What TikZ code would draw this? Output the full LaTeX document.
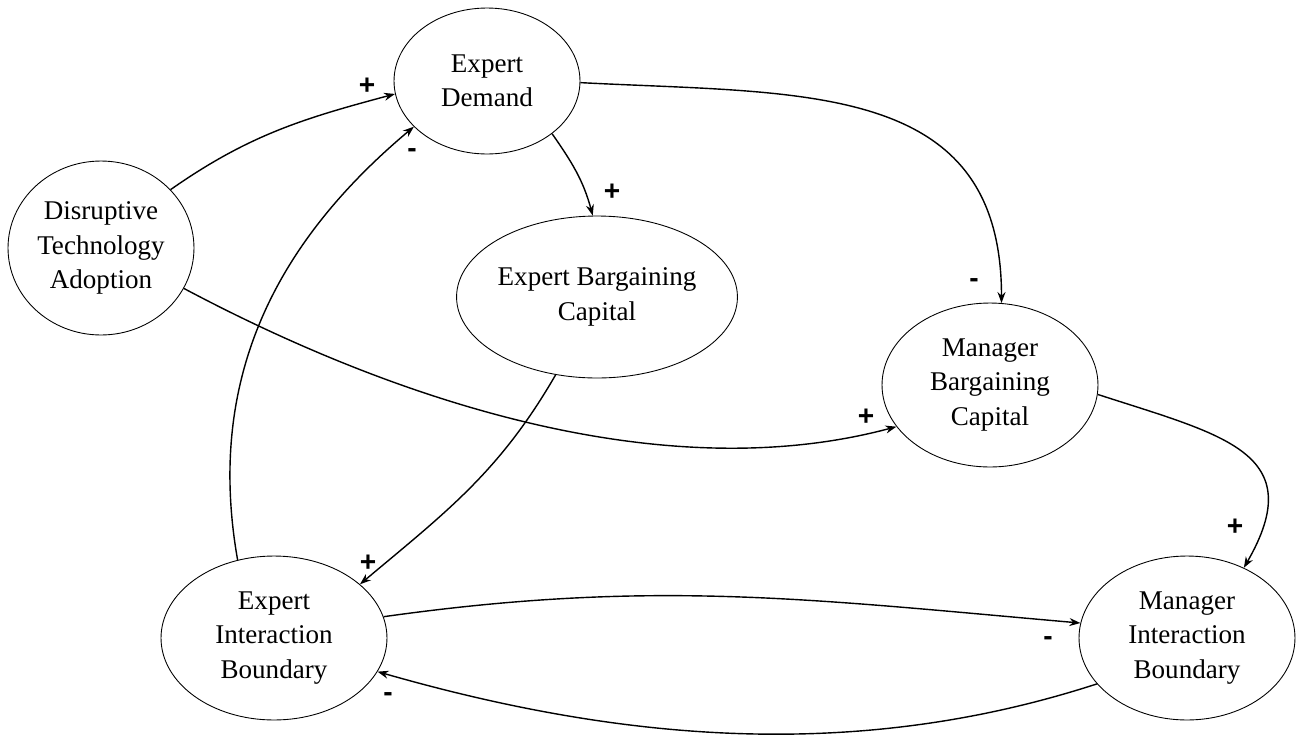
\documentclass[tikz,border=0pt]{standalone}
\usepackage{fontspec}
\setmainfont{Liberation Serif}
\newfontfamily\signfont{Liberation Sans}
\usetikzlibrary{arrows.meta,shapes.geometric}
\tikzset{
  factor node/.style={
    ellipse,
    draw=black,
    line width=0.5pt,
    inner sep=0pt,
    align=center,
    font=\fontsize{15.4}{19.6}\selectfont
  },
  link/.style={-{Stealth[length=2.2mm,width=1.6mm]},line width=0.8pt},
  sign/.style={font=\signfont\bfseries\fontsize{16}{16}\selectfont,inner sep=0pt}
}

\begin{document}
\begin{tikzpicture}[x=0.02cm,y=-0.02cm]
  \useasboundingbox (0,0) rectangle (1296,738);

  \node[factor node,minimum width=3.72cm,minimum height=3.48cm] (dta) at (101,248) {Disruptive\\Technology\\Adoption};
  \node[factor node,minimum width=3.72cm,minimum height=2.92cm] (ed) at (487,81) {Expert\\Demand};
  \node[factor node,minimum width=5.40cm,minimum height=3.24cm] (ebc) at (597,297) {Expert Bargaining\\Capital};
  \node[factor node,minimum width=4.32cm,minimum height=3.28cm] (mbc) at (990,385) {Manager\\Bargaining\\Capital};
  \node[factor node,minimum width=4.52cm,minimum height=3.28cm] (eib) at (274,638) {Expert\\Interaction\\Boundary};
  \node[factor node,minimum width=4.32cm,minimum height=3.28cm] (mib) at (1187,638) {Manager\\Interaction\\Boundary};

  \draw[link] (dta.40) to[out=35,in=195] (ed.188);
  \draw[link] (eib.115) to[out=100,in=220] (ed.212);
  \draw[link] (ed.321) to[out=-55,in=105] (ebc.93);
  \draw[link] (ed.-1) to[out=-3,in=90,looseness=1.2] (mbc.82);
  \draw[link] (dta.-26) to[out=-28,in=195,looseness=0.85] (mbc.204);
  \draw[link] (ebc.242) to[out=240,in=40] (eib.32);
  \draw[link] (mbc.-5) to[out=-18,in=60,looseness=1.5] (mib.51);
  \draw[link] (eib.11) to[out=8,in=175] (mib.172);
  \draw[link] (mib.207) to[out=198,in=-16,looseness=0.9] (eib.342);

  % polarity signs
  \node[sign] (s1) at (367,86) {+};
  \node[sign] (s2) at (412,153) {-};
  \node[sign] (s3) at (612,192) {+};
  \node[sign] (s4) at (974,283) {-};
  \node[sign] (s5) at (866,417) {+};
  \node[sign] (s6) at (1235,527) {+};
  \node[sign] (s7) at (1048,641) {-};
  \node[sign] (s8) at (368,563) {+};
  \node[sign] (s9) at (388,697) {-};
\end{tikzpicture}
\end{document}
